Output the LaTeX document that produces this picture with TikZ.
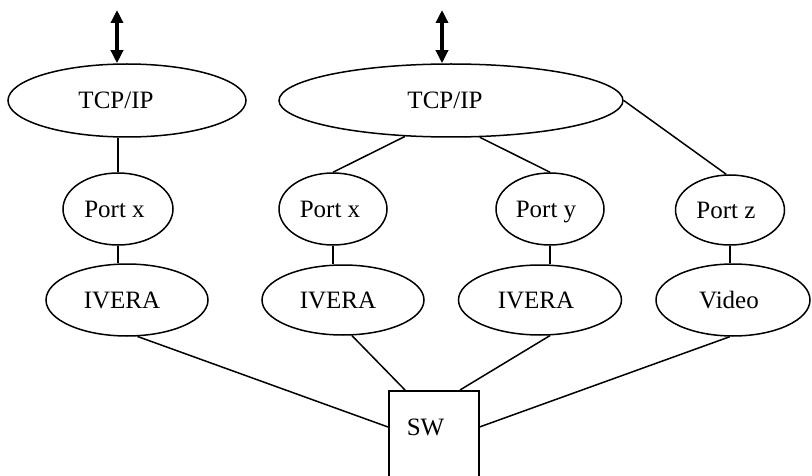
\documentclass[tikz,border=0pt]{standalone}
\usepackage{fontspec}
\setmainfont{Liberation Serif}
\usetikzlibrary{shapes.geometric,arrows.meta,calc}
\begin{document}
\begin{tikzpicture}[x=1pt,y=-1pt,
  every node/.style={font=\fontsize{25}{30}\selectfont},
  oval/.style={ellipse,draw,line width=1.5pt,inner sep=0pt,text height=17pt,text depth=0pt},
  link/.style={line width=1.5pt},
  bigarrow/.style={line width=3.5pt,{Triangle[length=13pt,width=12pt]}-{Triangle[length=13pt,width=12pt]}}]
\useasboundingbox (0,0) rectangle (812,476);
\clip (0,0) rectangle (812,476);
% TCP/IP
\node[oval,minimum width=238pt,minimum height=73pt] (tcp1) at (127,100.5) {TCP/IP\kern22pt};
\node[oval,minimum width=344pt,minimum height=73pt] (tcp2) at (451,100.5) {TCP/IP\kern12pt};
% Ports
\node[oval,minimum width=110pt,minimum height=72pt] (p1) at (118,209) {Port x\kern7pt};
\node[oval,minimum width=108pt,minimum height=72pt] (p2) at (333,209) {Port x\kern6pt};
\node[oval,minimum width=108pt,minimum height=72pt] (p3) at (550,209) {Port y\kern8pt};
\node[oval,minimum width=109pt,minimum height=70pt] (p4) at (730,210) {Port z\kern8pt};
% IVERA / Video
\node[oval,minimum width=162pt,minimum height=72pt] (i1) at (127,300) {IVERA\kern10pt};
\node[oval,minimum width=162pt,minimum height=70pt] (i2) at (343,300) {IVERA\kern10pt};
\node[oval,minimum width=163pt,minimum height=70pt] (i3) at (540,300) {IVERA\kern8pt};
\node[oval,minimum width=154pt,minimum height=72pt] (i4) at (733,300) {Video\kern8pt};
% SW
\node[draw,line width=1.5pt,minimum width=90pt,minimum height=110pt,anchor=north west,inner sep=0pt] (sw) at (388,390) {};
\node[text height=17pt,text depth=0pt,inner sep=0pt] (swt) at (425.5,427) {SW};
% arrows
\coordinate (a1) at (117,10);
\coordinate (a2) at (442,10);
\draw[bigarrow] (a1) -- (a1 |- tcp1.north);
\draw[bigarrow] (a2) -- (a2 |- tcp2.north);
% links
\draw[link] (tcp1.south -| p1.north) -- (p1.north);
\draw[link] (tcp2.218.7) -- (p2.north);
\draw[link] (tcp2.-52) -- (p3.north);
\draw[link] (tcp2.east) -- (p4.96);
\draw[link] (p1.south) -- (p1.south |- i1.north);
\draw[link] (p2.south) -- (p2.south |- i2.north);
\draw[link] (p3.south) -- (p3.south |- i3.north);
\draw[link] (p4.south) -- (p4.south |- i4.north);
\draw[link] (i1.-74) -- ($(sw.north west)+(0,37)$);
\draw[link] (i2.-76) -- ($(sw.north west)+(17,0)$);
\draw[link] (i3.-74) -- ($(sw.north west)+(72,0)$);
\draw[link] (i4.-95) -- ($(sw.north east)+(0,37)$);
\end{tikzpicture}
\end{document}
